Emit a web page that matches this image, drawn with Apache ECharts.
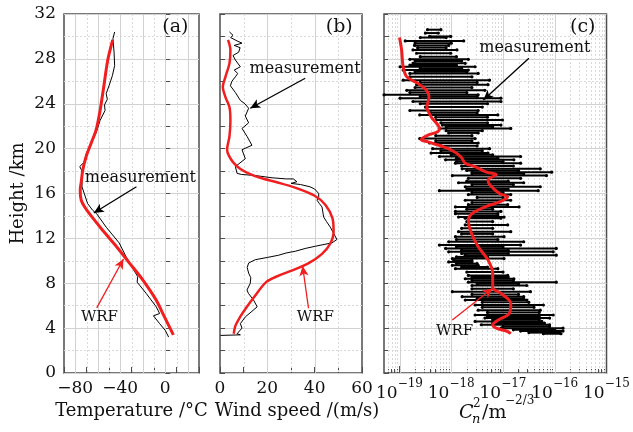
<!DOCTYPE html>
<html>
<head>
<meta charset="utf-8">
<script src="https://cdn.jsdelivr.net/npm/echarts@6/dist/echarts.min.js"></script>
<style>
  html, body { margin: 0; padding: 0; background: #fff; }
  #chart { width: 633px; height: 432px; }
</style>
</head>
<body>
<div id="chart"></div>
<script>
// ---------------- data ----------------
const heightLabels = [0, 4, 8, 12, 16, 20, 24, 28, 32];          // km
const tempTickLabels = [-80, -40, 0];                           // °C
const windTickLabels = [0, 20, 40, 60];                         // m/s
const cn2DecadeLabels = [-19, -18, -17, -16, -15];              // log10(Cn²)

// (a) temperature profile: [°C, km]
const tempMeasured = [
  [-45, 30.4], [-46.5, 29.8], [-45.5, 28.6], [-45, 27.4], [-47, 26.5], [-50, 25.6],
  [-52.5, 24.9], [-51.5, 24.4], [-54, 23.9], [-53.5, 23.4], [-58, 22.5], [-61.5, 21.4],
  [-66, 20.5], [-70, 19.6], [-72, 18.8], [-76, 18.4], [-73.5, 17.9], [-74, 17.2],
  [-74, 16.6], [-72, 16.0], [-69, 15.1], [-64.5, 14.5], [-61, 14.2], [-52.5, 13.0],
  [-41, 11.6], [-35, 10.4], [-30, 9.5], [-24.5, 8.6], [-25, 8.1], [-17, 7.1],
  [-8, 5.9], [-5, 5.3], [-10.5, 5.1], [-5, 4.4], [0, 3.8], [3, 3.2]
];
const tempWrf = [
  [-46.7, 29.7], [-51.1, 27.9], [-54.7, 25.5], [-57.9, 23.4], [-61.4, 21.7], [-65.8, 20.5],
  [-70.3, 19.3], [-73.3, 18.1], [-74.7, 17.0], [-75.6, 16.3], [-74.7, 15.4], [-71, 14.7],
  [-67.4, 14.2], [-55.5, 12.7], [-43.6, 11.3], [-31.8, 9.8], [-20, 8.3], [-8.1, 6.5],
  [-0.7, 5.0], [7.2, 3.4]
];

// (b) wind speed profile: [m/s, km]
const windMeasured = [
  [4.0, 30.4], [5.5, 30.1], [4.5, 29.9], [7.2, 29.6], [9.3, 29.4], [6.0, 29.2], [8.5, 29.0],
  [7.9, 28.6], [5.5, 28.3], [6.5, 27.9], [8.6, 27.3], [6.0, 27.0], [7.5, 26.7], [6.5, 26.4],
  [5.0, 26.0], [4.4, 25.6], [6.5, 25.0], [8.6, 24.3], [10.5, 24.0], [12.1, 23.6], [10.7, 22.9],
  [12.1, 22.3], [9.3, 21.8], [11.4, 21.1], [13.5, 20.3], [9.3, 19.9], [10.7, 19.1], [6.5, 18.4],
  [7.2, 17.8], [9, 17.7], [15, 17.6], [22, 17.4], [28, 17.3], [31, 17.3], [32.5, 17.05],
  [30, 16.9], [34, 16.8], [38, 16.6], [40, 16.4], [41.7, 16.0], [41.7, 15.7], [41, 15.4],
  [42, 15.1], [43.1, 14.8], [43.8, 13.9], [45, 13.5], [46.6, 13.0], [48, 12.45], [49.4, 11.9],
  [47.3, 11.6], [40.3, 11.3], [36, 11.1], [31.8, 10.85], [28, 10.7], [24.8, 10.5], [20, 10.3],
  [14.9, 10.1], [12.1, 9.8], [11.5, 9.4], [12.1, 8.9], [13, 8.5], [12.8, 8.0], [11.4, 7.4],
  [12, 7.1], [14.2, 6.5], [15.7, 5.9], [13.5, 5.5], [10.7, 5.0], [8.6, 4.4], [9.3, 4.0],
  [7.2, 3.5], [8.6, 3.4], [0.2, 3.35]
];
const windWrf = [
  [3.4, 29.7], [4.4, 28.8], [4.0, 27.6], [2.3, 26.4], [1.2, 25.5], [2.3, 24.6], [4.0, 23.7],
  [4.4, 22.5], [4.0, 21.1], [3.0, 19.9], [3.7, 19.4], [5.5, 18.8], [8.5, 18.2], [12, 17.8],
  [17, 17.4], [24, 17.0], [32, 16.5], [40, 15.8], [44.5, 15.0], [47.5, 13.8], [48, 12.6],
  [46.5, 11.5], [43, 10.6], [37.5, 9.8], [30, 9.1], [25, 8.7], [19.5, 8.1], [14.5, 6.8],
  [11, 5.8], [8.5, 5.0], [6.5, 4.2], [5.8, 3.5]
];

// (c) refractive-index structure constant, stored as log10(Cn²)
// measured: height (km) with the low / high end of each horizontal bar
const cn2Height = [
  30.6, 30.3, 30.0, 29.9, 29.6, 29.4, 29.2, 29.0, 28.8, 28.5, 28.2, 27.96, 27.8, 27.6, 27.45,
  27.3, 27.15, 27.0, 26.85, 26.7, 26.4, 26.1, 25.9, 25.7, 25.45, 25.2, 25.0, 24.8, 24.65, 24.5,
  24.2, 24.0, 23.7, 23.4, 23.2, 23.0, 22.8, 22.55, 22.3, 22.1, 21.95, 21.8, 21.6, 21.4, 21.15,
  20.9, 20.7, 20.5, 20.25, 20.0, 19.8, 19.6, 19.45, 19.3, 19.15, 19.0, 18.85, 18.7, 18.45, 18.2,
  18.05, 17.9, 17.75, 17.6, 17.35, 17.1, 16.96, 16.8, 16.6, 16.4, 16.25, 16.1, 15.9, 15.65, 15.4,
  15.2, 15.0, 14.8, 14.6, 14.4, 14.2, 14.0, 13.9, 13.8, 13.5, 13.2, 12.9, 12.6, 12.4, 12.15,
  11.9, 11.7, 11.4, 11.25, 11.1, 10.95, 10.8, 10.65, 10.5, 10.35, 10.2, 10.05, 9.9, 9.75, 9.6,
  9.45, 9.3, 9.0, 8.7, 8.55, 8.4, 8.25, 8.1, 7.95, 7.8, 7.5, 7.25, 7.0, 6.8, 6.65,
  6.5, 6.3, 6.06, 5.85, 5.6, 5.4, 5.17, 5.05, 4.9, 4.75, 4.6, 4.45, 4.3, 4.15, 4.0,
  3.85, 3.74, 3.6, 3.5
];
const cn2Low = [
  -18.46, -18.50, -18.42, -18.60, -18.89, -18.70, -18.71, -18.65, -18.74, -18.67, -18.60, -18.80, -18.70, -18.74, -18.80,
  -18.99, -18.60, -18.93, -18.70, -18.80, -18.80, -18.93, -18.60, -18.67, -18.70, -18.86, -18.80, -19.30, -18.60, -18.99,
  -18.74, -18.60, -18.50, -18.80, -18.40, -18.61, -18.30, -18.30, -18.20, -18.17, -18.10, -18.23, -18.10, -18.05, -18.30,
  -18.61, -18.30, -18.42, -18.20, -18.36, -18.20, -18.39, -18.00, -18.23, -17.90, -18.11, -17.90, -17.92, -17.80, -17.79,
  -17.70, -17.60, -17.60, -17.98, -17.67, -17.70, -17.86, -17.60, -17.73, -17.70, -18.23, -17.60, -17.67, -17.50, -17.73,
  -17.60, -17.67, -17.92, -17.70, -17.92, -17.92, -17.60, -17.86, -17.73, -17.70, -17.73, -17.80, -17.86, -17.80, -17.92,
  -17.90, -18.05, -18.23, -17.90, -18.11, -17.80, -18.05, -17.80, -17.73, -17.90, -17.98, -17.95, -18.05, -17.90, -17.98,
  -17.80, -17.92, -17.70, -17.67, -17.60, -17.73, -17.60, -17.67, -17.50, -17.60, -17.60, -17.98, -17.60, -17.79, -17.50,
  -17.73, -17.40, -17.54, -17.40, -17.48, -17.30, -17.54, -17.30, -17.35, -17.20, -17.54, -17.20, -17.42, -17.00, -17.04,
  -16.80, -16.66, -16.50, -16.22
];
const cn2High = [
  -18.20, -18.25, -18.01, -18.10, -17.76, -18.00, -18.05, -18.10, -17.89, -18.01, -17.90, -17.67, -17.80, -17.73, -17.90,
  -17.54, -17.80, -17.67, -17.70, -17.48, -17.60, -17.26, -17.50, -17.29, -17.60, -17.35, -17.70, -17.48, -17.50, -17.04,
  -17.04, -17.30, -17.40, -17.48, -17.50, -17.10, -17.30, -17.01, -17.30, -17.04, -17.20, -16.85, -17.40, -17.48, -17.60,
  -17.54, -17.60, -17.48, -17.50, -17.26, -17.40, -17.29, -17.20, -16.66, -17.10, -16.79, -17.00, -16.66, -16.80, -16.28,
  -16.70, -16.06, -16.60, -16.16, -16.66, -16.90, -16.60, -16.80, -16.28, -16.90, -16.32, -17.00, -16.85, -17.00, -16.85,
  -17.10, -16.91, -16.69, -17.20, -17.04, -17.10, -17.10, -16.98, -17.04, -17.20, -16.91, -17.20, -16.85, -17.20, -16.98,
  -17.10, -16.60, -16.66, -17.00, -15.97, -16.90, -16.03, -16.90, -15.97, -17.30, -16.98, -17.60, -17.60, -17.50, -17.48,
  -17.30, -17.10, -17.00, -16.91, -16.90, -16.79, -16.80, -15.97, -16.70, -16.54, -16.80, -16.47, -16.70, -16.60, -16.60,
  -16.54, -16.50, -16.22, -16.40, -16.28, -16.30, -16.03, -16.30, -16.10, -16.30, -16.25, -16.20, -16.10, -16.10, -15.84,
  -16.00, -15.84, -15.90, -15.88
];
// WRF: [log10(Cn²), km]
const cn2Wrf = [
  [-19.0, 29.9], [-18.96, 28.8], [-18.93, 27.3], [-18.86, 26.4], [-18.64, 25.8], [-18.48, 25.2],
  [-18.43, 24.6], [-18.47, 23.7], [-18.39, 22.85], [-18.23, 21.8], [-18.26, 21.5], [-18.45, 21.2],
  [-18.58, 20.8], [-18.45, 20.6], [-18.24, 20.3], [-18.01, 19.9], [-17.82, 19.3], [-17.73, 18.7],
  [-17.54, 18.4], [-17.32, 17.9], [-17.13, 17.7], [-17.29, 17.2], [-17.26, 16.8], [-17.07, 16.0],
  [-16.91, 15.7], [-17.04, 15.3], [-17.35, 14.8], [-17.60, 14.2], [-17.67, 13.6], [-17.61, 12.45],
  [-17.48, 11.26], [-17.29, 10.07], [-17.2, 8.9], [-17.2, 7.6], [-17.04, 7.1], [-16.85, 6.2],
  [-16.88, 5.3], [-17.10, 4.7], [-17.2, 4.3], [-17.13, 4.0], [-16.91, 3.7], [-16.85, 3.5]
];

// ---------------- styling helpers ----------------
const SERIF = "'DejaVu Serif', serif";
const RED = '#f01e1e';
const FRAME = '#4d4d4d';
const GRID_SOLID = '#d2d2d2';
const GRID_DASH = '#d9d9d9';
const minus = v => String(v).replace('-', '\u2212');

// vertical grid positions for each panel
const tempGridSolid = [-80, -60, -40, -20, 0, 20];
const tempGridDash = [-70, -50, -30, -10, 10];
const windGridSolid = [20, 40];
const windGridDash = [10, 30, 50];
const cn2Major = [-19, -18, -17, -16];
const cn2Minor = [];
for (let n = -20; n <= -16; n++) {
  for (let k = 2; k <= 9; k++) {
    const v = n + Math.log10(k);
    if (v > -19.3 && v < -15) cn2Minor.push(v);
  }
}

function vGrid(idx, values, dashed) {
  return {
    type: 'custom', xAxisIndex: idx, yAxisIndex: idx, z: 1, silent: true,
    data: values.map(v => [v, 0]),
    renderItem: (params, api) => {
      const t = api.coord([api.value(0), 32]);
      const b = api.coord([api.value(0), 0]);
      return {
        type: 'line',
        shape: { x1: Math.round(t[0]) + 0.5, y1: t[1], x2: Math.round(b[0]) + 0.5, y2: b[1] },
        style: { stroke: dashed ? GRID_DASH : GRID_SOLID, lineWidth: 1, lineDash: dashed ? [2, 2] : null }
      };
    }
  };
}

function note(coord, text, size) {
  return {
    coord: coord, symbol: 'circle', symbolSize: 0,
    label: { show: true, position: 'inside', formatter: text, color: '#111',
             fontFamily: SERIF, fontSize: size }
  };
}

function arrow(from, to, color) {
  return {
    silent: true, symbol: ['none', 'arrow'], symbolSize: [7, 10],
    lineStyle: { color: color, width: 1.3, type: 'solid' },
    label: { show: false }, emphasis: { disabled: true },
    data: [[{ coord: from }, { coord: to }]]
  };
}

const grids = [
  { left: 64, top: 14, width: 135, height: 359 },
  { left: 220, top: 14, width: 142, height: 359 },
  { left: 384, top: 14, width: 226, height: 359 }
].map(g => Object.assign(g, { show: true, borderColor: FRAME, borderWidth: 1.5, backgroundColor: 'transparent' }));

const yAxisBase = i => ({
  type: 'value', gridIndex: i, min: 0, max: 32, interval: 4,
  axisLine: { show: false },
  axisTick: { show: true, inside: true, length: 5, lineStyle: { color: FRAME, width: 1 } },
  minorTick: { show: true, splitNumber: 2, length: 5, lineStyle: { color: FRAME, width: 1 } },
  splitLine: { show: true, lineStyle: { color: GRID_SOLID, width: 1 } },
  minorSplitLine: { show: true, lineStyle: { color: GRID_DASH, width: 1, type: [2, 2] } },
  axisLabel: { show: i === 0, margin: 8, fontFamily: SERIF, fontSize: 17, color: '#111' }
});

const xName = { fontFamily: SERIF, fontSize: 18, color: '#111' };
const cn2NameStyle = (text, size, italic) => ({
  text: text, fontFamily: SERIF, fontSize: size, fontStyle: italic ? 'italic' : 'normal',
  fill: '#111', verticalAlign: 'top', align: 'left'
});

const option = {
  animation: false,
  backgroundColor: '#fff',
  grid: grids,
  xAxis: [
    {
      type: 'value', gridIndex: 0, min: -90, max: 30, interval: 10,
      axisLine: { show: false }, splitLine: { show: false },
      axisTick: { show: true, inside: true, length: 6, lineStyle: { color: FRAME } },
      axisLabel: { margin: 7, fontFamily: SERIF, fontSize: 17, color: '#111',
                   formatter: v => tempTickLabels.includes(v) ? minus(v) : '' },
      name: 'Temperature /\u00b0C', nameLocation: 'middle', nameGap: 29, nameTextStyle: xName
    },
    {
      type: 'value', gridIndex: 1, min: 0, max: 60, interval: 10,
      axisLine: { show: false }, splitLine: { show: false },
      axisTick: { show: true, inside: true, length: 6, lineStyle: { color: FRAME } },
      axisLabel: { margin: 7, fontFamily: SERIF, fontSize: 17, color: '#111',
                   formatter: v => windTickLabels.includes(v) ? String(v) : '' },
      name: 'Wind speed /(m/s)', nameLocation: 'middle', nameGap: 29,
      nameTextStyle: Object.assign({ padding: [0, 0, 0, 12] }, xName)
    },
    {
      type: 'value', gridIndex: 2, min: -19.3, max: -15, position: 'bottom',
      axisLine: { show: false }, splitLine: { show: false },
      axisTick: { show: true, inside: true, length: 7, customValues: cn2Major, lineStyle: { color: FRAME } },
      axisLabel: {
        margin: 5, customValues: cn2DecadeLabels, color: '#111',
        formatter: v => '{b|10}{s|' + minus(v) + '}',
        rich: {
          b: { fontFamily: SERIF, fontSize: 17, lineHeight: 24, verticalAlign: 'bottom', color: '#111' },
          s: { fontFamily: SERIF, fontSize: 12, lineHeight: 24, verticalAlign: 'top', color: '#111' }
        }
      }
    },
    {
      type: 'value', gridIndex: 2, min: -19.3, max: -15, position: 'bottom',
      axisLine: { show: false }, splitLine: { show: false },
      axisTick: { show: true, inside: true, length: 4, customValues: cn2Minor, lineStyle: { color: FRAME } },
      axisLabel: { show: false }
    }
  ],
  yAxis: [
    Object.assign(yAxisBase(0), {
      name: 'Height /km', nameLocation: 'middle', nameGap: 37,
      nameTextStyle: xName
    }),
    yAxisBase(1),
    yAxisBase(2)
  ],
  // axis title of panel (c): C with stacked n / 2, then /m^(-2/3)
  graphic: [
    { type: 'text', x: 459, y: 404, silent: true, style: cn2NameStyle('C', 19, true) },
    { type: 'text', x: 473, y: 398, silent: true, style: cn2NameStyle('2', 12, false) },
    { type: 'text', x: 472, y: 413, silent: true, style: cn2NameStyle('n', 13, true) },
    { type: 'text', x: 482, y: 404, silent: true, style: cn2NameStyle('/m', 19, false) },
    { type: 'text', x: 505, y: 395, silent: true, style: cn2NameStyle('\u22122/3', 12, false) }
  ],
  series: [
    vGrid(0, tempGridSolid, false), vGrid(0, tempGridDash, true),
    vGrid(1, windGridSolid, false), vGrid(1, windGridDash, true),
    vGrid(2, cn2Major, false), vGrid(2, cn2Minor, true),

    // (a)
    {
      type: 'line', xAxisIndex: 0, yAxisIndex: 0, z: 3, data: tempMeasured, symbol: 'none',
      lineStyle: { color: '#000', width: 1 },
      markLine: arrow([-25.6, 16.6], [-63.5, 14.26], '#000'),
      markPoint: { silent: true, data: [note([-22.1, 17.4], 'measurement', 16), note([9, 30.84], '(a)', 19)] }
    },
    {
      type: 'line', xAxisIndex: 0, yAxisIndex: 0, z: 4, data: tempWrf, symbol: 'none', smooth: 0.3,
      lineStyle: { color: RED, width: 3 },
      markLine: arrow([-60.9, 5.8], [-37.1, 10.16], RED),
      markPoint: { silent: true, data: [note([-58.5, 5.0], 'WRF', 15)] }
    },

    // (b)
    {
      type: 'line', xAxisIndex: 1, yAxisIndex: 1, z: 3, data: windMeasured, symbol: 'none',
      lineStyle: { color: '#000', width: 1 },
      markLine: arrow([36.0, 26.27], [12.8, 23.6], '#000'),
      markPoint: { silent: true, data: [note([36.0, 27.1], 'measurement', 16), note([50.4, 30.8], '(b)', 19)] }
    },
    {
      type: 'line', xAxisIndex: 1, yAxisIndex: 1, z: 4, data: windWrf, symbol: 'none', smooth: 0.3,
      lineStyle: { color: RED, width: 2.5 },
      markLine: arrow([37.4, 5.77], [34.9, 9.54], RED),
      markPoint: { silent: true, data: [note([40.3, 5.0], 'WRF', 15)] }
    },

    // (c) measured bars
    {
      type: 'custom', xAxisIndex: 2, yAxisIndex: 2, z: 3,
      data: cn2Height.map((h, i) => [cn2Low[i], h, cn2High[i]]),
      encode: { x: [0, 2], y: 1 },
      renderItem: (params, api) => {
        const a = api.coord([api.value(0), api.value(1)]);
        const b = api.coord([api.value(2), api.value(1)]);
        return {
          type: 'group',
          children: [
            { type: 'line', shape: { x1: a[0], y1: a[1], x2: b[0], y2: b[1] }, style: { stroke: '#000', lineWidth: 2 } },
            { type: 'circle', shape: { cx: a[0], cy: a[1], r: 1.6 }, style: { fill: '#000' } },
            { type: 'circle', shape: { cx: b[0], cy: b[1], r: 1.6 }, style: { fill: '#000' } }
          ]
        };
      },
      markLine: arrow([-16.50, 28.05], [-17.38, 24.33], '#000'),
      markPoint: { silent: true, data: [note([-16.385, 29.0], 'measurement', 16), note([-15.46, 30.84], '(c)', 19)] }
    },
    {
      type: 'line', xAxisIndex: 2, yAxisIndex: 2, z: 4, data: cn2Wrf, symbol: 'none', smooth: 0.3,
      lineStyle: { color: RED, width: 3 },
      markLine: arrow([-17.98, 4.72], [-17.20, 7.55], RED),
      markPoint: { silent: true, data: [note([-17.935, 3.7], 'WRF', 15)] }
    }
  ]
};

const chart = echarts.init(document.getElementById('chart'), null, { renderer: 'canvas' });
chart.setOption(option);
</script>
</body>
</html>
